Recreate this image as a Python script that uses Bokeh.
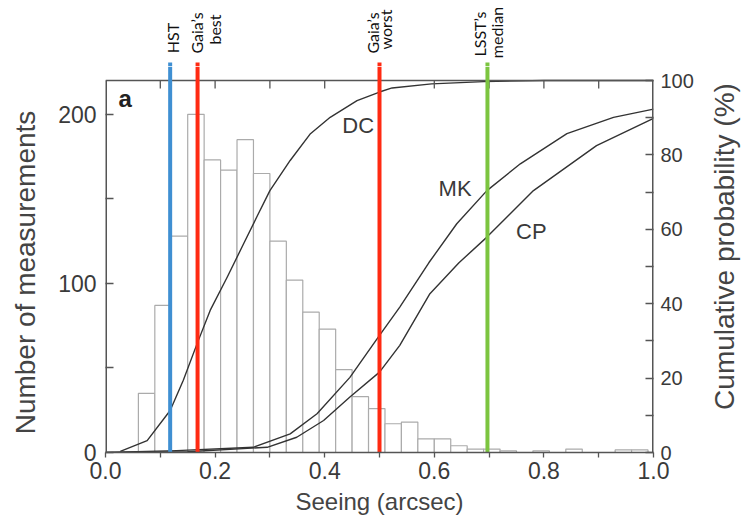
import math
from bokeh.plotting import figure
from bokeh.models import Range1d, LinearAxis, FixedTicker, ColumnDataSource, PrintfTickFormatter
from bokeh.layouts import column, row
from bokeh.core.properties import value
from bokeh.embed import file_html
from bokeh.resources import INLINE

# ---- data ----
bin_left = [0.06, 0.09, 0.12, 0.15, 0.18, 0.21, 0.24, 0.27, 0.30, 0.33, 0.36,
            0.39, 0.42, 0.45, 0.48, 0.51, 0.54, 0.57, 0.60, 0.63, 0.66, 0.69,
            0.72, 0.75, 0.78, 0.81, 0.84, 0.87, 0.90, 0.93, 0.96]
bin_width = 0.03
counts = [35, 87, 128, 200, 173, 167, 185, 165, 125, 102, 83,
          73, 49, 33, 26, 17, 18, 8, 8, 4, 2, 2,
          1, 0, 1, 0, 2, 0, 0, 1.5, 1.5]

dc_x = [0.027, 0.076, 0.118, 0.142, 0.167, 0.191, 0.222, 0.252, 0.276, 0.30,
        0.337, 0.374, 0.41, 0.459, 0.50, 0.523, 0.595, 0.69, 0.80, 1.0]
dc_y = [0.3, 3.2, 11.3, 19.4, 29.2, 38.2, 47.1, 56.1, 63.3, 70.4,
        78.5, 85.7, 90.1, 94.6, 96.9, 98.0, 99.1, 99.7, 100.0, 100.0]

mk_x = [0.0, 0.13, 0.27, 0.337, 0.386, 0.446, 0.50, 0.537, 0.59, 0.641, 0.696,
        0.757, 0.842, 0.927, 1.0]
mk_y = [0.0, 0.5, 1.4, 5.0, 10.4, 20.2, 31.5, 39.1, 51.0, 61.5, 70.4,
        77.6, 85.7, 90.1, 92.3]

cp_x = [0.0, 0.15, 0.295, 0.349, 0.398, 0.446, 0.50, 0.537, 0.592, 0.645, 0.696,
        0.781, 0.896, 1.0]
cp_y = [0.0, 0.2, 1.4, 4.1, 8.6, 14.9, 21.6, 28.8, 42.7, 51.0, 57.9,
        70.4, 82.5, 89.8]

curve_names = ["DC", "MK", "CP"]
curve_label_x = [0.461, 0.638, 0.777]
curve_label_y = [88.0, 71.1, 59.4]

mark_x = [0.118, 0.168, 0.50, 0.697]
mark_colors = ["#3f8fd2", "#ff2a12", "#ff2a12", "#7cc540"]

# marker label lines (rotated), which marker each belongs to
label_lines = ["HST", "Gaia\u2019s", "best", "Gaia\u2019s", "worst", "LSST\u2019s", "median"]
label_mark = [0, 1, 1, 2, 2, 3, 3]
label_dx = [2, -1, 17, -7.5, 6, -8, 9]      # px, across the marker line
label_py = [37.5, 32.5, 29, 32.5, 29, 33.5, 32]  # px from top of page (text centre)

x_ticks = [0.0, 0.2, 0.4, 0.6, 0.8, 1.0]
x_minor = [0.1, 0.3, 0.5, 0.7, 0.9]
left_ticks = [0, 100, 200]
left_minor = [50, 150]
right_ticks = [0, 20, 40, 60, 80, 100]
right_minor = [10, 30, 50, 70, 90]

x_title = "Seeing (arcsec)"
left_title = "Number of measurements"
right_title = "Cumulative probability (%)"

AX = "#555555"
TXT = "#3a3a3a"
TITLE = "#444444"
FONT = "Liberation Sans"

LW, RW = 45, 38          # side strips holding the rotated axis titles
MW = 743 - LW - RW       # middle column width
ML = 105 - LW
MR = MW - (653 - LW)
FRAME_W = MW - ML - MR
TOPH = 66                # height of the label strip
YMAX = 220
YPAD = (80 - TOPH) * YMAX / 372.0   # frame extends 14 px above the box
CUM_SCALE = 2.2

xr = Range1d(0, 1)


def strip(width):
    f = figure(width=width, height=524, x_range=Range1d(0, width), y_range=Range1d(524, 0),
               output_backend="svg", toolbar_location=None,
               x_axis_location=None, y_axis_location=None,
               min_border_left=0, min_border_right=0, min_border_top=0, min_border_bottom=0)
    f.outline_line_color = None
    f.grid.visible = False
    return f


# ---- side strips ----
lf = strip(LW)
lf.text(x=[25], y=[272], text=[left_title], angle=math.pi / 2, text_align="center",
        text_baseline="middle", text_font=value(FONT), text_font_size="28px",
        text_color=TITLE)
rf = strip(RW)
rf.text(x=[724 - (743 - RW)], y=[246], text=[right_title], angle=math.pi / 2,
        text_align="center", text_baseline="middle", text_font=value(FONT),
        text_font_size="28px", text_color=TITLE)

# ---- top strip with marker labels (y = pixels from top of page) ----
top = figure(width=MW, height=TOPH, x_range=xr, y_range=Range1d(TOPH, 0),
             output_backend="svg", toolbar_location=None,
             x_axis_location=None, y_axis_location=None,
             min_border_left=ML, min_border_right=MR,
             min_border_top=0, min_border_bottom=0)
top.outline_line_color = None
top.grid.visible = False
msrc = ColumnDataSource(dict(x=mark_x, c=mark_colors))
top.segment(x0="x", y0=62, x1="x", y1=TOPH, line_color="c", line_width=4, source=msrc)
lsrc = ColumnDataSource(dict(x=[mark_x[m] + d / FRAME_W for m, d in zip(label_mark, label_dx)],
                             y=label_py, t=label_lines))
top.text(x="x", y="y", text="t", angle=math.pi / 2,
         text_align="center", text_baseline="middle", text_font=value("Lato"),
         text_font_size="16px", text_color="#111111", source=lsrc)

# ---- main chart ----
p = figure(width=MW, height=524 - TOPH, x_range=xr, y_range=Range1d(0, YMAX + YPAD),
           output_backend="svg", toolbar_location=None,
           min_border_left=ML, min_border_right=MR,
           min_border_top=0, min_border_bottom=72)
p.extra_y_ranges = {"cum": Range1d(0, (YMAX + YPAD) / CUM_SCALE)}
p.grid.visible = False
p.outline_line_color = None

bsrc = ColumnDataSource(dict(left=bin_left, right=[b + bin_width for b in bin_left], top=counts))
p.quad(left="left", right="right", bottom=0, top="top", source=bsrc,
       fill_color="white", line_color="#ababab", line_width=1.2)

for xs, ys in [(dc_x, dc_y), (mk_x, mk_y), (cp_x, cp_y)]:
    p.line(xs, ys, y_range_name="cum", line_color="#333333", line_width=1.4,
           line_join="round")

# box: left/right edges (half clipped at the frame edge) and top edge
p.segment(x0=[0, 1], y0=[0, 0], x1=[0, 1], y1=[YMAX, YMAX], line_color=AX, line_width=3)
p.segment(x0=[0], y0=[YMAX], x1=[1], y1=[YMAX], line_color=AX, line_width=1.5)
# top frame ticks (inward)
p.segment(x0=x_minor + x_ticks[1:-1], y0=YMAX, x1=x_minor + x_ticks[1:-1], y1=YMAX - 4.7,
          line_color=AX, line_width=1.3)

# marker lines, extending above the box
p.segment(x0="x", y0=0, x1="x", y1=YMAX + YPAD, line_color="c", line_width=4, source=msrc)

p.text(x=curve_label_x, y=curve_label_y, text=curve_names, y_range_name="cum",
       text_align="center", text_baseline="middle", text_font=value(FONT),
       text_font_size="22px", text_color=TXT)
p.text(x=[0.036], y=[209.5], text=["a"], text_align="center", text_baseline="middle",
       text_font=value(FONT), text_font_size="24px", text_font_style="bold",
       text_color="#222222")

# bottom axis
xa = p.xaxis[0]
xa.ticker = FixedTicker(ticks=x_ticks, minor_ticks=x_minor)
xa.formatter = PrintfTickFormatter(format="%.1f")
xa.axis_label = x_title

# left axis
ya = p.yaxis[0]
ya.ticker = FixedTicker(ticks=left_ticks, minor_ticks=left_minor)

# right axis
ra = LinearAxis(y_range_name="cum",
                ticker=FixedTicker(ticks=right_ticks, minor_ticks=right_minor))
p.add_layout(ra, "right")

for ax in (xa, ya, ra):
    ax.axis_line_color = AX
    ax.axis_line_width = 1.5
    ax.major_tick_line_color = AX
    ax.minor_tick_line_color = AX
    ax.major_tick_line_width = 1.3
    ax.minor_tick_line_width = 1.3
    ax.major_label_text_font = FONT
    ax.major_label_text_color = TXT
    ax.axis_label_text_font = FONT
    ax.axis_label_text_font_style = "normal"
    ax.axis_label_text_color = TITLE
ya.axis_line_color = None
ra.axis_line_color = None

xa.major_tick_in = 0; xa.major_tick_out = 5
xa.minor_tick_in = 0; xa.minor_tick_out = 5
xa.major_label_text_font_size = "23px"
xa.major_label_standoff = 4
xa.axis_label_text_font_size = "24px"
xa.axis_label_standoff = 6

ya.major_tick_in = 8; ya.major_tick_out = 0
ya.minor_tick_in = 8; ya.minor_tick_out = 0
ya.major_label_text_font_size = "23px"
ya.major_label_standoff = 9

ra.major_tick_in = 8; ra.major_tick_out = 0
ra.minor_tick_in = 8; ra.minor_tick_out = 0
ra.major_label_text_font_size = "20px"
ra.major_label_standoff = 7

layout = row(lf, column(top, p, spacing=0), rf, spacing=0)
open("out.html", "w").write(file_html(layout, INLINE))
